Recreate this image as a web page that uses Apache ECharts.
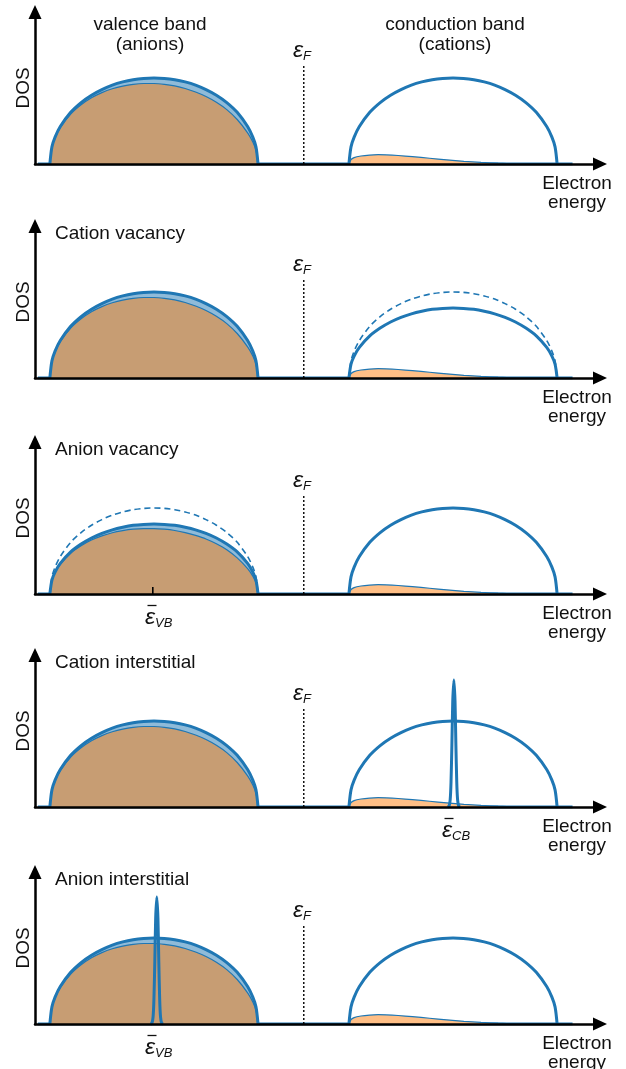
<!DOCTYPE html>
<html><head><meta charset="utf-8">
<script src="https://cdn.jsdelivr.net/npm/echarts@6/dist/echarts.min.js"></script>
<style>html,body{margin:0;padding:0;background:#fff}#c{width:626px;height:1069px}</style>
</head><body><div id="c"></div>
<script>
// ---------------- data (energy in arbitrary units, DOS in arbitrary units) ----------------
const vbX = [2.6, 2.96, 3.51, 4.42, 6.24, 8.06, 9.88, 11.7, 13.52, 15.34, 17.16, 18.98, 20.8, 22.62, 24.44, 26.26, 28.08, 29.9, 31.72, 33.54, 35.36, 37.18, 38.09, 38.64, 39.0];
const cbX = [54.9, 55.26, 55.81, 56.72, 58.54, 60.36, 62.18, 64.0, 65.82, 67.64, 69.46, 71.28, 73.1, 74.92, 76.74, 78.56, 80.38, 82.2, 84.02, 85.84, 87.66, 89.48, 90.39, 90.94, 91.3];
const bandDOS = [0, 10.7, 16.8, 23.4, 32.3, 38.4, 43.0, 46.5, 49.3, 51.3, 52.7, 53.5, 53.75, 53.5, 52.7, 51.3, 49.3, 46.5, 43.0, 38.4, 32.3, 23.4, 16.8, 10.7, 0];
const bandDOSReduced = [0, 8.7, 13.7, 19.1, 26.3, 31.2, 35.0, 37.9, 40.1, 41.7, 42.9, 43.5, 43.75, 43.5, 42.9, 41.7, 40.1, 37.9, 35.0, 31.2, 26.3, 19.1, 13.7, 8.7, 0];
const anionDOS = [0, 10.4, 16.3, 22.7, 31.2, 37.0, 41.4, 44.6, 47.0, 48.7, 49.8, 50.3, 50.3, 49.8, 48.8, 47.2, 45.0, 42.2, 38.6, 34.0, 27.8, 19.5, 13.8, 8.6, 0];
const anionDOSReduced = [0, 8.5, 13.3, 18.5, 25.4, 30.1, 33.7, 36.3, 38.3, 39.6, 40.5, 40.9, 40.9, 40.5, 39.7, 38.4, 36.6, 34.4, 31.4, 27.7, 22.6, 15.9, 11.2, 7.0, 0];
const cationX = [54.9, 55.2, 55.8, 57.0, 58.5, 60.0, 61.5, 63.5, 66.0, 69.0, 72.0, 75.0, 78.0, 81.0, 84.0, 88.0, 91.3];
const cationDOS = [0, 2.5, 4.0, 5.0, 5.6, 5.8, 5.7, 5.3, 4.6, 3.6, 2.6, 1.7, 1.0, 0.5, 0.2, 0.05, 0];
const vbSpikeX = [20.2, 20.45, 20.65, 20.8, 20.95, 21.1, 21.3, 21.5, 21.65, 21.8, 21.95, 22.15, 22.4];
const cbSpikeX = [72.15, 72.4, 72.6, 72.75, 72.9, 73.05, 73.25, 73.45, 73.6, 73.75, 73.9, 74.1, 74.35];
const spikeDOS = [0, 0.5, 4.4, 15.7, 38.7, 66, 79.4, 66, 38.7, 15.7, 4.4, 0.5, 0];
const baselineX = [0.5, 94.0];
const fermiX = 47.0, fermiTop = 62;
const vbMeanX = 20.6, meanTickTop = 4.4;
const panelTitles = ['', 'Cation vacancy', 'Anion vacancy', 'Cation interstitial', 'Anion interstitial'];
const bandTitles = ['valence band\n(anions)', 'conduction band\n(cations)'];
const yName = 'DOS', xName = 'Electron\nenergy';

// ---------------- layout / style ----------------
const axisY = [164, 378, 594, 807, 1024];
const plotH = 152, gridLeft = 35, gridW = 565;
const xMax = 98.8, yMax = 95;
const FONT = '"Liberation Sans", Arial, Helvetica, sans-serif';
const BLUE = '#1f77b4', LIGHTBLUE = '#8fbbd9', BROWN = '#c79d73', ORANGE = '#ffbf86';

const zip = (xs, ys) => xs.map((x, i) => [x, ys[i]]);

const cfg = [
  {vb: bandDOS, vbA: anionDOS, cb: bandDOS},
  {vb: bandDOS, vbA: anionDOS, cb: bandDOSReduced, cbDash: bandDOS},
  {vb: bandDOSReduced, vbA: anionDOSReduced, vbDash: bandDOS, cb: bandDOS, tick: true, mean: 'VB'},
  {vb: bandDOS, vbA: anionDOS, cb: bandDOS, cbSpike: true, mean: 'CB'},
  {vb: bandDOS, vbA: anionDOS, cb: bandDOS, vbSpike: true, mean: 'VB'}
];

const grids = [], xAxes = [], yAxes = [], series = [], graphics = [];
const axisLineStyle = {color: '#000', width: 2.5};
cfg.forEach((c, i) => {
  grids.push({left: gridLeft, top: axisY[i] - plotH, width: gridW, height: plotH});
  xAxes.push({gridIndex: i, type: 'value', min: 0, max: xMax, z: 10,
    axisLine: {show: true, onZero: false, symbol: ['none', 'triangle'], symbolSize: [13, 14], lineStyle: axisLineStyle},
    axisTick: {show: false}, axisLabel: {show: false}, splitLine: {show: false}});
  yAxes.push({gridIndex: i, type: 'value', min: 0, max: yMax, z: 10,
    name: yName, nameLocation: 'middle', nameRotate: 90, nameGap: 2,
    nameTextStyle: {fontSize: 19, color: '#111', fontFamily: FONT},
    axisLine: {show: true, onZero: false, symbol: ['none', 'triangle'], symbolSize: [13, 14], lineStyle: axisLineStyle},
    axisTick: {show: false}, axisLabel: {show: false}, splitLine: {show: false}});
  const base = {type: 'line', xAxisIndex: i, yAxisIndex: i, symbol: 'none', smooth: 0.3, silent: true};
  // baseline of the total DOS (mostly hidden by the axis)
  series.push(Object.assign({}, base, {smooth: false, data: [[baselineX[0], 0], [baselineX[1], 0]], lineStyle: {width: 3, color: BLUE}, z: 1}));
  // valence band total (fill)
  series.push(Object.assign({}, base, {data: zip(vbX, c.vb), lineStyle: {width: 0}, areaStyle: {color: LIGHTBLUE, opacity: 1}, z: 1}));
  // anion projected
  series.push(Object.assign({}, base, {data: zip(vbX, c.vbA), lineStyle: {width: 1.2, color: BLUE}, areaStyle: {color: BROWN, opacity: 1}, z: 2}));
  // cation projected
  series.push(Object.assign({}, base, {data: zip(cationX, cationDOS), lineStyle: {width: 1.2, color: BLUE}, areaStyle: {color: ORANGE, opacity: 1}, z: 2}));
  // total lines
  series.push(Object.assign({}, base, {data: zip(vbX, c.vb), lineStyle: {width: 3, color: BLUE}, z: 3}));
  series.push(Object.assign({}, base, {data: zip(cbX, c.cb), lineStyle: {width: 3, color: BLUE}, z: 3}));
  if (c.vbDash) series.push(Object.assign({}, base, {data: zip(vbX, c.vbDash), lineStyle: {width: 1.6, color: BLUE, type: [6, 4]}, z: 3}));
  if (c.cbDash) series.push(Object.assign({}, base, {data: zip(cbX, c.cbDash), lineStyle: {width: 1.6, color: BLUE, type: [6, 4]}, z: 3}));
  if (c.cbSpike) series.push(Object.assign({}, base, {data: zip(cbSpikeX, spikeDOS), smooth: 0.2, lineStyle: {width: 3, color: BLUE}, z: 4}));
  if (c.vbSpike) series.push(Object.assign({}, base, {data: zip(vbSpikeX, spikeDOS), smooth: 0.2, lineStyle: {width: 3, color: BLUE}, z: 4}));
  // Fermi level
  series.push(Object.assign({}, base, {smooth: false, data: [[fermiX, 0], [fermiX, fermiTop]], lineStyle: {width: 1.4, color: '#000', type: [2, 2]}, z: 5}));
  if (c.tick) series.push(Object.assign({}, base, {smooth: false, data: [[vbMeanX, 0], [vbMeanX, meanTickTop]], lineStyle: {width: 1.6, color: '#000'}, z: 11}));

  // texts
  const ay = axisY[i];
  const epsRich = {
    e: {fontSize: 23, fontStyle: 'italic', fontFamily: FONT, fill: '#111', verticalAlign: 'bottom'},
    s: {fontSize: 13, fontStyle: 'italic', fontFamily: FONT, fill: '#111', verticalAlign: 'bottom'}
  };
  graphics.push({type: 'text', x: 293, y: ay - 113, silent: true,
    style: {text: '{e|ε}{s|F}', rich: epsRich, textAlign: 'left', textVerticalAlign: 'middle', align: 'left', verticalAlign: 'middle'}});
  graphics.push({type: 'text', x: 577, y: ay + 29.5, silent: true,
    style: {text: xName, fontSize: 19, fontFamily: FONT, fill: '#111', lineHeight: 19.5, textAlign: 'center', textVerticalAlign: 'middle', align: 'center', verticalAlign: 'middle'}});
  if (panelTitles[i]) graphics.push({type: 'text', x: 55, y: ay - 144, silent: true,
    style: {text: panelTitles[i], fontSize: 19, fontFamily: FONT, fill: '#111', textAlign: 'left', textVerticalAlign: 'middle', align: 'left', verticalAlign: 'middle'}});
  if (c.mean) {
    const lx = c.mean === 'CB' ? 442 : 145;
    graphics.push({type: 'text', x: lx, y: ay + 24, silent: true,
      style: {text: '{e|ε}{s|' + c.mean + '}', rich: epsRich, textAlign: 'left', textVerticalAlign: 'middle', align: 'left', verticalAlign: 'middle'}});
    // macron over the epsilon
    graphics.push({type: 'line', silent: true, shape: {x1: lx + 2.5, y1: ay + 11.5, x2: lx + 11.5, y2: ay + 11.5}, style: {stroke: '#111', lineWidth: 1.3}});
  }
});
graphics.push({type: 'text', x: 150, y: axisY[0] - 129, silent: true,
  style: {text: bandTitles[0], fontSize: 19, fontFamily: FONT, fill: '#111', lineHeight: 20, textAlign: 'center', textVerticalAlign: 'middle', align: 'center', verticalAlign: 'middle'}});
graphics.push({type: 'text', x: 455, y: axisY[0] - 129, silent: true,
  style: {text: bandTitles[1], fontSize: 19, fontFamily: FONT, fill: '#111', lineHeight: 20, textAlign: 'center', textVerticalAlign: 'middle', align: 'center', verticalAlign: 'middle'}});

const chart = echarts.init(document.getElementById('c'), null, {renderer: 'canvas'});
chart.setOption({animation: false, backgroundColor: '#fff', grid: grids, xAxis: xAxes, yAxis: yAxes, series: series, graphic: graphics});
</script></body></html>
